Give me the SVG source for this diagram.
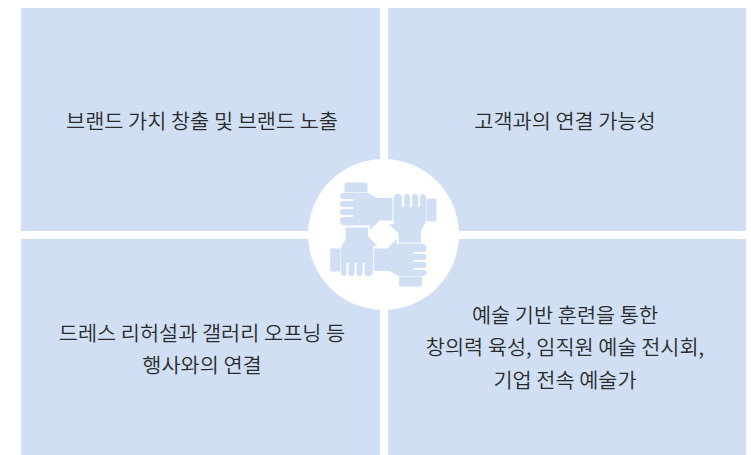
<svg xmlns="http://www.w3.org/2000/svg" width="751" height="455" viewBox="0 0 751 455">
<style>
.p{fill:#d0dff3}
.h{fill:#d0dff3}
text{font-family:"Noto Sans CJK KR","Noto Sans",sans-serif;font-size:20.8px;fill:#2b2b2b;text-anchor:middle;font-weight:350}
</style>
<defs>
<g id="hand">
<rect class="h" x="344.5" y="182.5" width="23" height="10" rx="1.5"/>
<path class="h" d="M345 193H368L377 198H388.5V220.5H379.5L370 230V225.5H346Q340 225.5 340 221Q340 217 343 217H353V215H343Q340 215 340 212Q340 209 343 209H353V207H343Q340 207 340 204Q340 201 343 201H353V199H343Q340 199 340 196Q340 193 345 193Z"/>
</g>
<rect id="arm" class="h" x="388" y="198" width="4.5" height="22.5"/>
</defs>
<rect width="751" height="455" fill="#fff"/>
<g id="panel-top-left"><rect class="p" x="21" y="8" width="359" height="223"/><text x="202" y="128.5">브랜드 가치 창출 및 브랜드 노출</text></g>
<g id="panel-top-right"><rect class="p" x="388" y="8" width="358" height="223"/><text x="565" y="128.5">고객과의 연결 가능성</text></g>
<g id="panel-bottom-left"><rect class="p" x="21" y="239" width="359" height="216"/><text x="202" y="340.5">드레스 리허설과 갤러리 오프닝 등</text><text x="202" y="372.5">행사와의 연결</text></g>
<g id="panel-bottom-right"><rect class="p" x="388" y="239" width="358" height="216"/><text x="565" y="323">예술 기반 훈련을 통한</text><text x="565" y="355">창의력 육성, 임직원 예술 전시회,</text><text x="565" y="388">기업 전속 예술가</text></g>
<g id="hub">
<circle cx="383.5" cy="234.5" r="75.5" fill="#fff"/>
<use href="#hand"/>
<use href="#arm"/>
<use href="#hand" transform="rotate(90 382.5 236.5)"/>
<use href="#hand" transform="rotate(180 383.3 234.5)"/>
<use href="#arm" transform="rotate(180 383.3 234.5)"/>
<use href="#hand" transform="rotate(270 381.8 234.2)"/>
</g>
</svg>
